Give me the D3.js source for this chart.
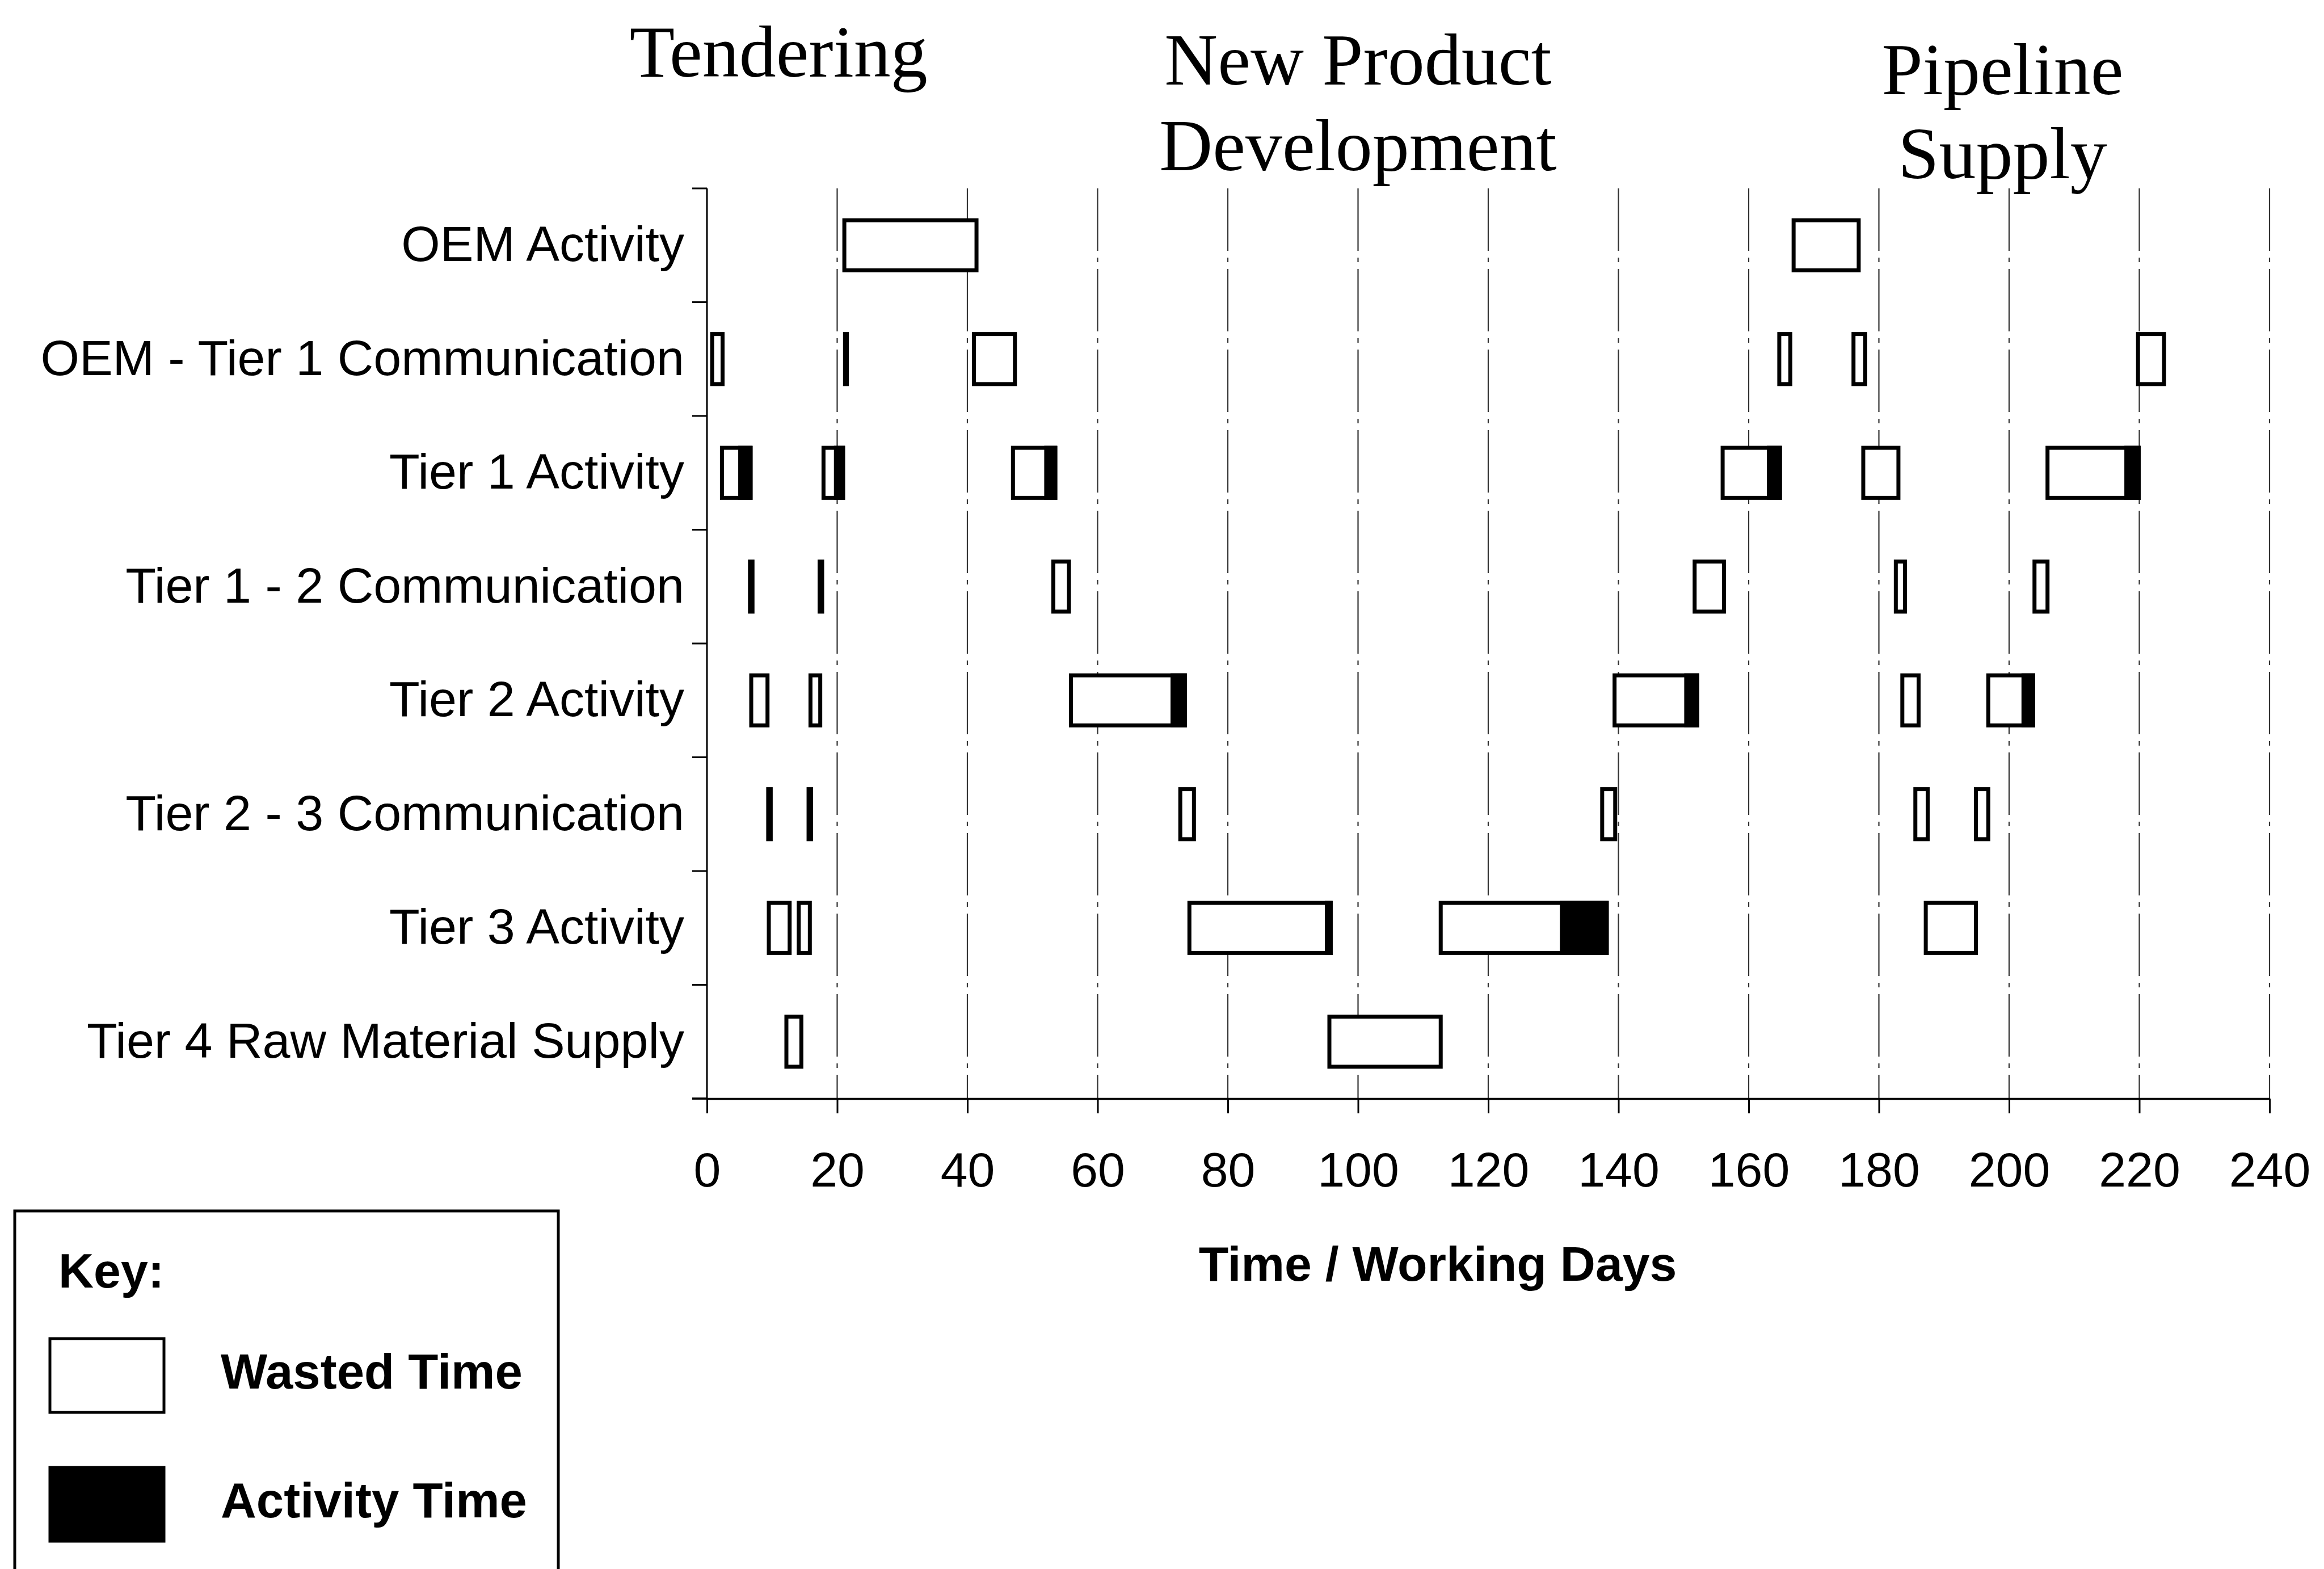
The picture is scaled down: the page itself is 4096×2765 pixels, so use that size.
<!DOCTYPE html>
<html><head><meta charset="utf-8">
<script src="https://cdn.jsdelivr.net/npm/d3@7"></script>
<style>html,body{margin:0;padding:0;background:#fff;} svg{display:block;}</style>
</head><body>
<svg id="chart" width="4096" height="2765"></svg>
<script>
// ---------------- DATA ----------------
const categories = [
  "OEM Activity",
  "OEM - Tier 1 Communication",
  "Tier 1 Activity",
  "Tier 1 - 2 Communication",
  "Tier 2 Activity",
  "Tier 2 - 3 Communication",
  "Tier 3 Activity",
  "Tier 4 Raw Material Supply"
];
const xTicks = [0, 20, 40, 60, 80, 100, 120, 140, 160, 180, 200, 220, 240];
const phaseTitles = [["Tendering"], ["New Product", "Development"], ["Pipeline", "Supply"]];
const axisTitle = "Time / Working Days";
const legendTitle = "Key:";
const legendLabels = ["Wasted Time", "Activity Time"];

// one entry per bar: row index, start day, wasted days, activity days
const barRow    = [0, 0,
                   1, 1, 1, 1, 1, 1,
                   2, 2, 2, 2, 2, 2,
                   3, 3, 3, 3, 3, 3,
                   4, 4, 4, 4, 4, 4,
                   5, 5, 5, 5, 5, 5,
                   6, 6, 6, 6, 6,
                   7, 7];
const barStart  = [21.1, 166.9,
                   0.8, 20.9, 41, 164.7, 176.1, 219.8,
                   2.3, 17.9, 47, 156, 177.6, 205.9,
                   6.3, 17, 53.2, 151.7, 182.6, 203.9,
                   6.8, 15.9, 55.9, 139.4, 183.6, 196.8,
                   9.1, 15.3, 72.7, 137.5, 185.6, 194.9,
                   9.5, 14.1, 74.1, 112.7, 187.2,
                   12.2, 95.6];
const barWasted = [20.3, 10,
                   1.6, 0, 6.3, 1.7, 1.8, 4,
                   2.5, 1.6, 4.8, 6.8, 5.4, 11.8,
                   0, 0, 2.4, 4.5, 1.4, 2,
                   2.5, 1.5, 15.3, 10.7, 2.5, 5.1,
                   0, 0, 2.1, 2, 1.9, 1.9,
                   3.2, 1.7, 20.8, 18.3, 7.7,
                   2.3, 17.1];
const barActive = [0, 0,
                   0, 0.9, 0, 0, 0, 0,
                   1.9, 1.4, 1.7, 2, 0, 2.2,
                   1, 1, 0, 0, 0, 0,
                   0, 0, 2.2, 2, 0, 1.8,
                   1, 1, 0, 0, 0, 0,
                   0, 0, 0.9, 7.2, 0,
                   0, 0];

// ---------------- LAYOUT ----------------
const svg = d3.select("#chart");
const SANS = "'Liberation Sans', Arial, Helvetica, sans-serif";
const SERIF = "'Liberation Serif', 'Times New Roman', serif";
const plotTop = 332, plotBottom = 1936;

const x = d3.scaleLinear().domain([0, 240]).range([1246, 4000]);
const y = d3.scaleBand().domain(categories).range([plotTop, plotBottom])
  .paddingInner(0.56).paddingOuter(0.28);

// gridlines
svg.append("g").selectAll("line").data(xTicks.filter(d => d > 0)).join("line")
  .attr("x1", d => x(d)).attr("x2", d => x(d))
  .attr("y1", plotTop).attr("y2", plotBottom)
  .attr("stroke", "#333").attr("stroke-width", 2.2)
  .attr("stroke-dasharray", "110,12,8,12");

// y axis line + boundary ticks
const yg = svg.append("g");
yg.append("line").attr("x1", x(0)).attr("x2", x(0)).attr("y1", plotTop).attr("y2", plotBottom)
  .attr("stroke", "#000").attr("stroke-width", 3);
const gap = (y.step() - y.bandwidth()) / 2;
const boundaries = categories.map(c => y(c) - gap).concat([plotBottom]);
yg.selectAll("line.bt").data(boundaries).join("line").attr("class", "bt")
  .attr("x1", x(0) - 26).attr("x2", x(0)).attr("y1", d => d).attr("y2", d => d)
  .attr("stroke", "#000").attr("stroke-width", 3);

// category labels
const yAxis = d3.axisLeft(y).tickSize(0).tickPadding(40);
const yAx = svg.append("g").attr("transform", `translate(${x(0)},0)`).call(yAxis);
yAx.select(".domain").remove();
yAx.selectAll("text").attr("font-family", SANS).attr("font-size", 88).attr("fill", "#000");

// x axis
const xAxis = d3.axisBottom(x).tickValues(xTicks).tickSize(26).tickSizeOuter(0).tickPadding(68)
  .tickFormat(d3.format("d"));
const xAx = svg.append("g").attr("transform", `translate(0,${plotBottom})`).call(xAxis);
xAx.select(".domain").attr("stroke-width", 3.5);
xAx.selectAll(".tick line").attr("stroke-width", 3);
xAx.selectAll("text").attr("font-family", SANS).attr("font-size", 86).attr("fill", "#000");
svg.append("line").attr("x1", x(0) - 26).attr("x2", x(0)).attr("y1", plotBottom).attr("y2", plotBottom)
  .attr("stroke", "#000").attr("stroke-width", 3.5);

// axis title
svg.append("text").attr("x", 2534).attr("y", 2257).attr("text-anchor", "middle")
  .attr("font-family", SANS).attr("font-weight", "bold").attr("font-size", 86).text(axisTitle);

// bars
const bars = barRow.map((r, i) => ({row: categories[r], start: barStart[i], wasted: barWasted[i], active: barActive[i]}));
const bw = y.bandwidth();
const SW = 7;
const bg = svg.append("g");
bg.selectAll("rect.w").data(bars.filter(b => b.wasted > 0)).join("rect").attr("class", "w")
  .attr("x", b => x(b.start)).attr("y", b => y(b.row))
  .attr("width", b => x(b.start + b.wasted + b.active) - x(b.start)).attr("height", bw)
  .attr("fill", "#fff").attr("stroke", "#000").attr("stroke-width", SW);
// activity (black) parts: cover the outline of the box they close
bg.selectAll("rect.a").data(bars.filter(b => b.active > 0)).join("rect").attr("class", "a")
  .attr("x", b => x(b.start + b.wasted) - (b.wasted > 0 ? 0 : 0))
  .attr("y", b => y(b.row) - SW / 2)
  .attr("width", b => x(b.start + b.wasted + b.active) - x(b.start + b.wasted) + (b.wasted > 0 ? SW / 2 : 0))
  .attr("height", bw + SW)
  .attr("fill", "#000");

// phase titles
const titleX = [11, 100, 199];
const titleY = [[135], [149, 300], [166, 314]];
phaseTitles.forEach((lines, i) => {
  lines.forEach((t, j) => {
    svg.append("text").attr("x", x(titleX[i])).attr("y", titleY[i][j])
      .attr("text-anchor", "middle").attr("font-family", SERIF).attr("font-size", 130)
      .attr("fill", "#000").text(t);
  });
});

// legend
const lg = svg.append("g");
lg.append("rect").attr("x", 26).attr("y", 2134).attr("width", 958).attr("height", 700)
  .attr("fill", "none").attr("stroke", "#000").attr("stroke-width", 5);
lg.append("text").attr("x", 103).attr("y", 2269).attr("font-family", SANS).attr("font-weight", "bold")
  .attr("font-size", 86).text(legendTitle);
const swY = [2359, 2586];
legendLabels.forEach((lab, i) => {
  lg.append("rect").attr("x", 88).attr("y", swY[i]).attr("width", 201).attr("height", 130)
    .attr("fill", i === 0 ? "#fff" : "#000").attr("stroke", "#000").attr("stroke-width", 5);
  lg.append("text").attr("x", 389).attr("y", swY[i] + 88).attr("font-family", SANS).attr("font-weight", "bold")
    .attr("font-size", 87).text(lab);
});
</script>
</body></html>
